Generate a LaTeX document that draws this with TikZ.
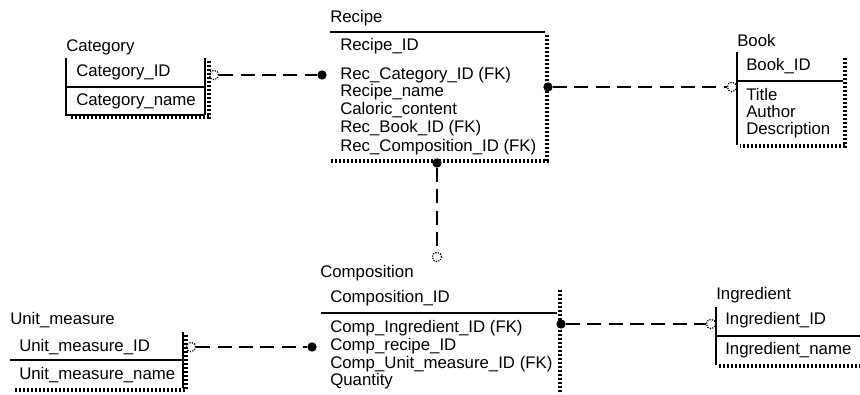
\documentclass[tikz,border=0pt]{standalone}
\usepackage{fontspec}
\setmainfont{Liberation Sans}
\begin{document}
\begin{tikzpicture}[x=0.75pt,y=-0.75pt,
  lbl/.style={anchor=west,inner sep=0,font=\fontsize{12.6}{14}\selectfont,text height=1.5ex,text depth=.3ex},
  edge/.style={line width=1pt},
  shade/.style={line width=2.8pt,dash pattern=on 1.6pt off 1.4pt},
  rel/.style={line width=1pt,dash pattern=on 10.5pt off 5.5pt},
  fdot/.style={circle,fill=black,inner sep=0,minimum size=7pt},
  odot/.style={circle,draw,densely dotted,inner sep=0,minimum size=7pt,line width=0.9pt}]
\useasboundingbox (0,0) rectangle (860,394);

% ---------- Category ----------
\node[lbl] (catT) at (66,47) {Category};
\draw[edge] (66,58) -- (66,115) -- (205,115);
\draw[edge] (205,58) -- (205,115);
\draw[edge] (66,87) -- (205,87);
\draw[shade] (209,61) -- (209,117) -- (70,117);
\node[lbl] (catA) at (76,72) {Category\_ID};
\node[lbl] (catB) at (76,101) {Category\_name};

% ---------- Recipe ----------
\node[lbl] (recT) at (330,18) {Recipe};
\draw[edge] (330,32) -- (545,32);
\draw[shade] (547,35) -- (547,161) -- (330,161);
\node[lbl] (rec1) at (340,46) {Recipe\_ID};
\node[lbl] (rec2) at (340,75) {Rec\_Category\_ID (FK)};
\node[lbl] (rec3) at (340,92) {Recipe\_name};
\node[lbl] (rec4) at (340,110) {Caloric\_content};
\node[lbl] (rec5) at (340,128) {Rec\_Book\_ID (FK)};
\node[lbl] (rec6) at (340,147) {Rec\_Composition\_ID (FK)};

% ---------- Book ----------
\node[lbl] (bookT) at (737,42) {Book};
\draw[edge] (737,52) -- (737,145);
\draw[edge] (737,81) -- (843,81);
\draw[shade] (845,58) -- (845,146) -- (740,146);
\node[lbl] (book1) at (746,66) {Book\_ID};
\node[lbl] (book2) at (746,96) {Title};
\node[lbl] (book3) at (746,113) {Author};
\node[lbl] (book4) at (746,130) {Description};

% ---------- Unit_measure ----------
\node[lbl] (unitT) at (10,320) {Unit\_measure};
\draw[edge] (183,332) -- (183,388);
\draw[edge] (10,360) -- (183,360);
\draw[shade] (186,335) -- (186,390) -- (15,390);
\node[lbl] (unit1) at (19,347) {Unit\_measure\_ID};
\node[lbl] (unit2) at (19,375) {Unit\_measure\_name};

% ---------- Composition ----------
\node[lbl] (compT) at (320,273) {Composition};
\draw[edge] (321,313) -- (557,313);
\draw[shade] (560,290) -- (560,394);
\node[lbl] (comp1) at (330,298) {Composition\_ID};
\node[lbl] (comp2) at (330,328) {Comp\_Ingredient\_ID (FK)};
\node[lbl] (comp3) at (330,346) {Comp\_recipe\_ID};
\node[lbl] (comp4) at (330,364) {Comp\_Unit\_measure\_ID (FK)};
\node[lbl] (comp5) at (330,381) {Quantity};

% ---------- Ingredient ----------
\node[lbl] (ingT) at (716,295) {Ingredient};
\draw[edge] (716,307) -- (716,365);
\draw[edge] (716,336) -- (860,336);
\draw[shade] (719,366) -- (860,366);
\node[lbl] (ing1) at (725,320) {Ingredient\_ID};
\node[lbl] (ing2) at (725,350) {Ingredient\_name};

% ---------- relationship ends ----------
\node[odot] (catO) at (214,75) {};
\node[fdot] (catF) at (322,75) {};
\node[fdot] (bookF) at (548,87) {};
\node[odot] (bookO) at (732,87) {};
\node[fdot] (compF) at (437,163) {};
\node[odot] (compO) at (437,257) {};
\node[odot] (unitO) at (191,347) {};
\node[fdot] (unitF) at (312,347) {};
\node[fdot] (ingF) at (561,324) {};
\node[odot] (ingO) at (711,324) {};

% ---------- relationships ----------
\draw[rel] (catO) -- (catF);
\draw[rel] (bookF) -- (bookO);
\draw[rel] (compF) -- (compO);
\draw[rel] (unitO) -- (unitF);
\draw[rel] (ingF) -- (ingO);
\end{tikzpicture}
\end{document}
